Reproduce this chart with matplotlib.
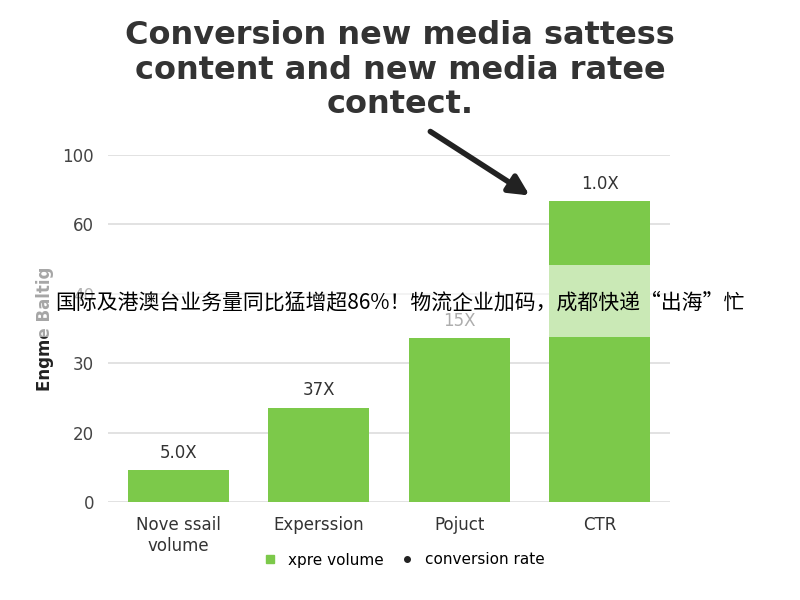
import matplotlib.pyplot as plt
from matplotlib.patches import Rectangle
from matplotlib.lines import Line2D

plt.rcParams["font.family"] = ["DejaVu Sans"]

# values are positions on the (unevenly labelled) y axis, one unit per gridline
categories = ["Nove ssail\nvolume", "Experssion", "Pojuct", "CTR"]
values = [0.46, 1.36, 2.36, 4.33]
bar_labels = ["5.0X", "37X", "15X", "1.0X"]
tick_labels = ["0", "20", "30", "40", "60", "100"]

GREEN = "#7cc94a"

fig = plt.figure(figsize=(8, 6), dpi=100)
ax = fig.add_axes([108 / 800, 1 - 502 / 600, 562 / 800, 347 / 600])

ax.bar(range(len(categories)), values, width=0.72, color=GREEN, zorder=2)
for i, (v, lab) in enumerate(zip(values, bar_labels)):
    ax.text(i, v + 0.12, lab, ha="center", va="bottom", fontsize=12, color="#333333")

ax.set_xlim(-0.5, 3.5)
ax.set_ylim(0, 5)
ax.set_yticks(range(len(tick_labels)))
ax.set_yticklabels(tick_labels, fontsize=12, color="#444444")
ax.set_xticks(range(len(categories)))
ax.set_xticklabels(categories, fontsize=12, color="#333333")
ax.tick_params(length=0, pad=10)
ax.grid(axis="y", color="#dddddd", linewidth=1.2, zorder=0)
for s in ax.spines.values():
    s.set_visible(False)
ax.set_ylabel("Engme Baltig", fontsize=12, fontweight="bold", color="#222222", labelpad=6)

fig.text(0.5, 1 - 20 / 600, "Conversion new media sattess\ncontent and new media ratee\ncontect.",
         ha="center", va="top", fontsize=23, fontweight="bold", color="#333333", linespacing=1.15)

ax.annotate("", xy=(0.665, 1 - 197 / 600), xytext=(0.535, 1 - 130 / 600),
            xycoords="figure fraction", textcoords="figure fraction",
            arrowprops=dict(arrowstyle="-|>,head_width=0.6,head_length=1.2", color="#222222", lw=4))

handles = [Line2D([], [], marker="s", color=GREEN, linestyle="none", markersize=6),
           Line2D([], [], marker="o", color="#222222", linestyle="none", markersize=4)]
fig.legend(handles, ["xpre volume", "conversion rate"], loc="center", bbox_to_anchor=(0.5, 1 - 560 / 600),
           ncol=2, frameon=False, fontsize=11, handletextpad=0.2, columnspacing=0.5)

# overlaid caption band
fig.patches.append(Rectangle((0, 1 - 337 / 600), 1, 72 / 600, transform=fig.transFigure,
                             facecolor="white", alpha=0.6, edgecolor="none", zorder=5))
fig.text(0.5, 1 - 302 / 600, "国际及港澳台业务量同比猛增超86%！物流企业加码，成都快递“出海”忙",
         ha="center", va="center", fontsize=15, color="black", zorder=6,
         family=["Noto Sans CJK SC", "DejaVu Sans"])

fig.savefig("out.png", dpi=100)
